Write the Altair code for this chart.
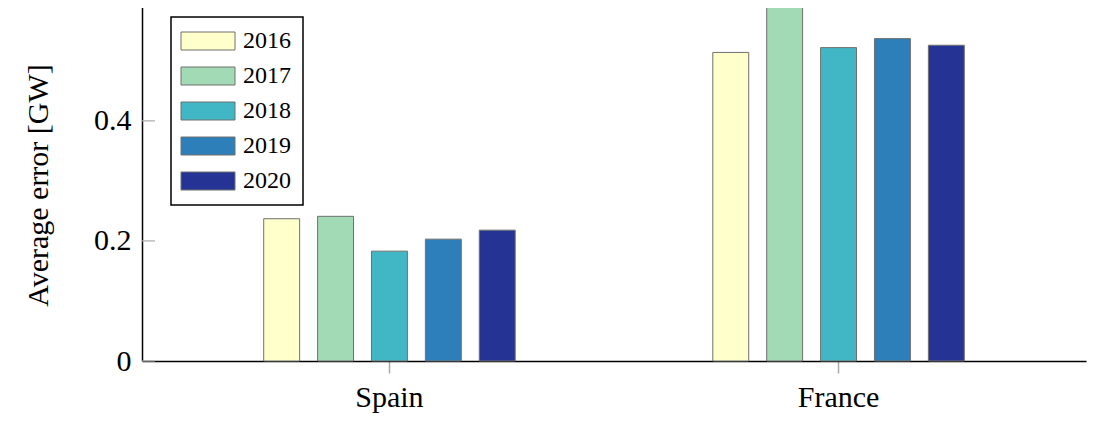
import altair as alt
import pandas as pd

countries = ["Spain", "France"]
years = ["2016", "2017", "2018", "2019", "2020"]
spain = [0.237, 0.241, 0.183, 0.203, 0.218]
france = [0.514, 0.592, 0.522, 0.537, 0.526]
colors = ["#ffffcc", "#a1dab4", "#41b6c4", "#2c7fb8", "#253494"]
y_ticks = [0.0, 0.2, 0.4]

rows = []
for c, vals in zip(countries, [spain, france]):
    for yr, v in zip(years, vals):
        rows.append({"country": c, "year": yr, "value": v})
df = pd.DataFrame(rows)
ticks_df = pd.DataFrame({"t": y_ticks})

FONT = "Liberation Serif"

bars = alt.Chart(df).mark_bar(stroke="#707070", strokeWidth=1).encode(
    x=alt.X("country:N", sort=countries,
            scale=alt.Scale(paddingInner=0.4, paddingOuter=0.251),
            axis=alt.Axis(title=None, labelAngle=0, labelFont=FONT, labelFontSize=30,
                          labelColor="black", tickColor="#aaaaaa", tickSize=12, tickWidth=1.5,
                          domainColor="black", domainWidth=1.5, labelPadding=9)),
    xOffset=alt.XOffset("year:N", sort=years,
                        scale=alt.Scale(paddingInner=1/3, paddingOuter=1/6)),
    y=alt.Y("value:Q", scale=alt.Scale(domain=[0, 0.593], nice=False, zero=True),
            axis=alt.Axis(title="Average error [GW]", values=y_ticks, format="~g",
                          grid=False, tickSize=0, labelPadding=11, labelFont=FONT,
                          labelFontSize=30, labelColor="black", domainColor="black",
                          domainWidth=1.5, titleFont=FONT, titleFontSize=30,
                          titleFontWeight="normal", titleColor="black",
                          titleX=-95, titleY=180, titleAngle=270,
                          titleBaseline="alphabetic", titleAlign="center")),
    color=alt.Color("year:N", sort=years,
                    scale=alt.Scale(domain=years, range=colors),
                    legend=alt.Legend(title=None, orient="none", legendX=29, legendY=12,
                                      symbolType="M-3,-1H3V1H-3Z", symbolSize=324,
                                      symbolOffset=13, labelOffset=23,
                                      symbolStrokeColor="#707070", symbolStrokeWidth=1,
                                      labelFont=FONT, labelFontSize=24, labelColor="black",
                                      labelBaseline="middle",
                                      labelExpr="datum.label + '\u00a0'",
                                      rowPadding=11, padding=12,
                                      strokeColor="black", fillColor="white")),
)

yticks = alt.Chart(ticks_df).mark_rule(color="#aaaaaa", strokeWidth=1.2).encode(
    y=alt.Y("t:Q"),
    x=alt.value(0),
    x2=alt.value(13),
)

chart = alt.layer(bars, yticks).properties(
    width=944, height=356,
    autosize=alt.AutoSizeParams(type="none"),
    padding={"left": 134, "top": -3, "right": 2, "bottom": 55},
).configure_view(stroke=None).configure_legend(strokeWidth=1.5)

chart.save("out.html", embed_options={"renderer": "svg", "actions": False})
